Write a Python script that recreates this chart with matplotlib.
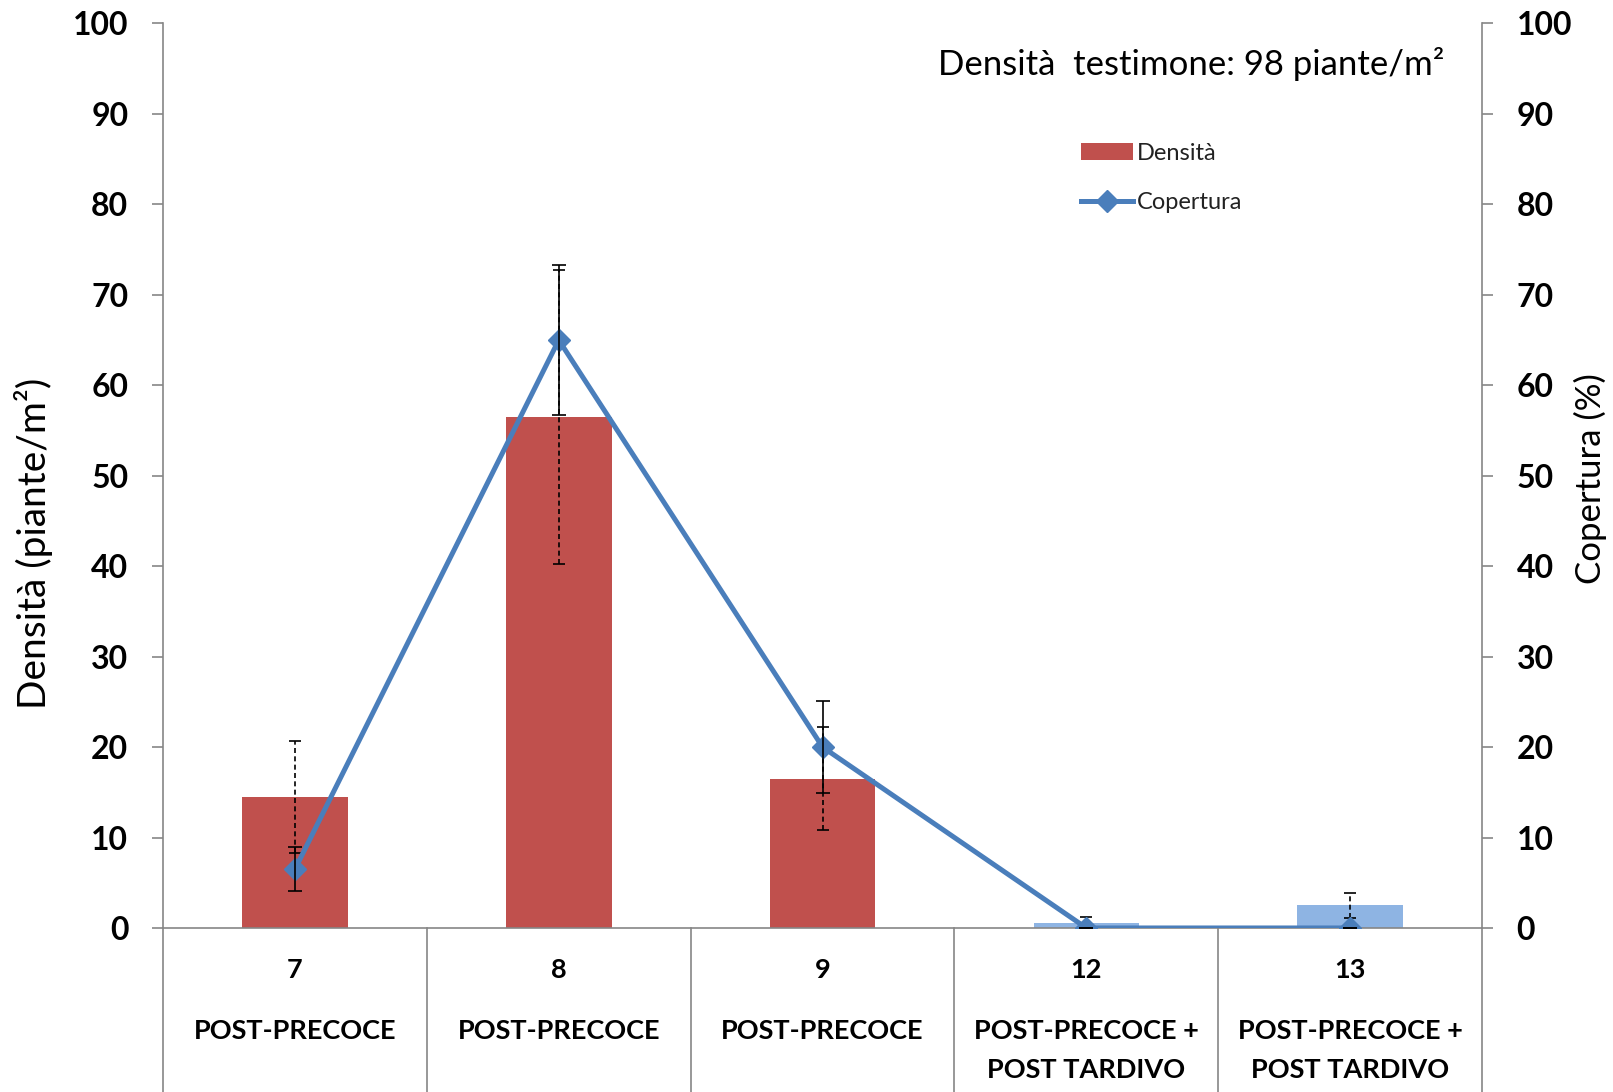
import matplotlib
matplotlib.use("Agg")
import matplotlib.pyplot as plt
from matplotlib.transforms import blended_transform_factory

# ---- data ----
categories = ["7", "8", "9", "12", "13"]
treatments = ["POST-PRECOCE", "POST-PRECOCE", "POST-PRECOCE",
              "POST-PRECOCE +\nPOST TARDIVO", "POST-PRECOCE +\nPOST TARDIVO"]
densita = [14.5, 56.5, 16.5, 0.6, 2.5]
densita_err = [6.2, 16.3, 5.7, 0.6, 1.4]
copertura = [6.5, 65.0, 20.0, 0.0, 0.0]
copertura_err = [2.4, 8.3, 5.1, 0.0, 0.0]
yticks = [0, 10, 20, 30, 40, 50, 60, 70, 80, 90, 100]

bar_colors = ["#C0504D", "#C0504D", "#C0504D", "#8EB4E3", "#8EB4E3"]
line_color = "#4A7EBB"
grey = "#868686"

plt.rcParams['font.family'] = ['Lato', 'DejaVu Sans']

fig = plt.figure(figsize=(16.13, 10.92), dpi=100)
ax = fig.add_axes([0.1011, 0.1502, 0.8177, 0.8283])
ax2 = ax.twinx()

x = list(range(len(categories)))
bars = ax.bar(x, densita, width=0.4, color=bar_colors, zorder=2, label="Densità")
eb = ax.errorbar(x, densita, yerr=densita_err, fmt='none', ecolor='black',
                 elinewidth=1.2, capsize=4, capthick=1.2, zorder=3)
eb[2][0].set_linestyle((0, (3, 2)))

line, = ax2.plot(x, copertura, color=line_color, lw=3.6, marker='D',
                 markersize=11, zorder=4, label="Copertura")
ax2.errorbar(x, copertura, yerr=copertura_err, fmt='none', ecolor='black',
             elinewidth=1.2, capsize=5, capthick=1.2, zorder=5)

for a in (ax, ax2):
    a.set_ylim(0, 100)
    a.set_xlim(-0.5, len(categories) - 0.5)
    a.set_yticks(yticks)
    a.spines['top'].set_visible(False)
    for s in ('left', 'right', 'bottom'):
        a.spines[s].set_color(grey)
        a.spines[s].set_linewidth(1.2)

ax.spines['right'].set_visible(False)
ax2.spines['left'].set_visible(False)
ax2.spines['bottom'].set_visible(False)

ax.tick_params(axis='y', direction='out', length=8, width=1.2, color=grey,
               labelsize=23, pad=17)
ax2.tick_params(axis='y', direction='out', length=8, width=1.2, color=grey,
                labelsize=23, pad=17)
for lab in ax.get_yticklabels() + ax2.get_yticklabels():
    lab.set_fontweight('bold')
ax.set_xticks([])

# category separators extending to figure bottom
bottom_frac = -0.1502 / 0.8283
trans = blended_transform_factory(ax.transData, ax.transAxes)
for i in range(len(categories) + 1):
    ax.plot([i - 0.5, i - 0.5], [0, bottom_frac], transform=trans,
            color=grey, lw=1.2, clip_on=False, zorder=1)

# category labels
ftrans = blended_transform_factory(ax.transData, fig.transFigure)
for i, (c, t) in enumerate(zip(categories, treatments)):
    fig.text(i, 0.1117, c, transform=ftrans, ha='center', va='center',
             fontsize=19.5, fontweight='bold')
    for j, part in enumerate(t.split("\n")):
        fig.text(i, 0.0559 - j * 0.0358, part, transform=ftrans, ha='center',
                 va='center', fontsize=19.5, fontweight='bold')

ax.set_ylabel("Densità (piante/m²)", fontsize=28)
ax.yaxis.set_label_coords(-0.0837, 0.4257)

fig.text(0.986, 0.5614, "Copertura (%)", fontsize=25, rotation=90,
         ha='center', va='center')

fig.text(0.5815, 0.9414, "Densità  testimone: 98 piante/m²", fontsize=25,
         ha='left', va='center')

leg = ax2.legend([bars, line], ["Densità", "Copertura"], loc='upper left',
                 bbox_to_anchor=(0.663, 0.880), bbox_transform=fig.transFigure,
                 frameon=False, fontsize=17, handlelength=2.2,
                 handletextpad=0.15, labelspacing=1.2, borderpad=0)
for t in leg.get_texts():
    t.set_color('#222222')

fig.savefig("out.png", dpi=100)
